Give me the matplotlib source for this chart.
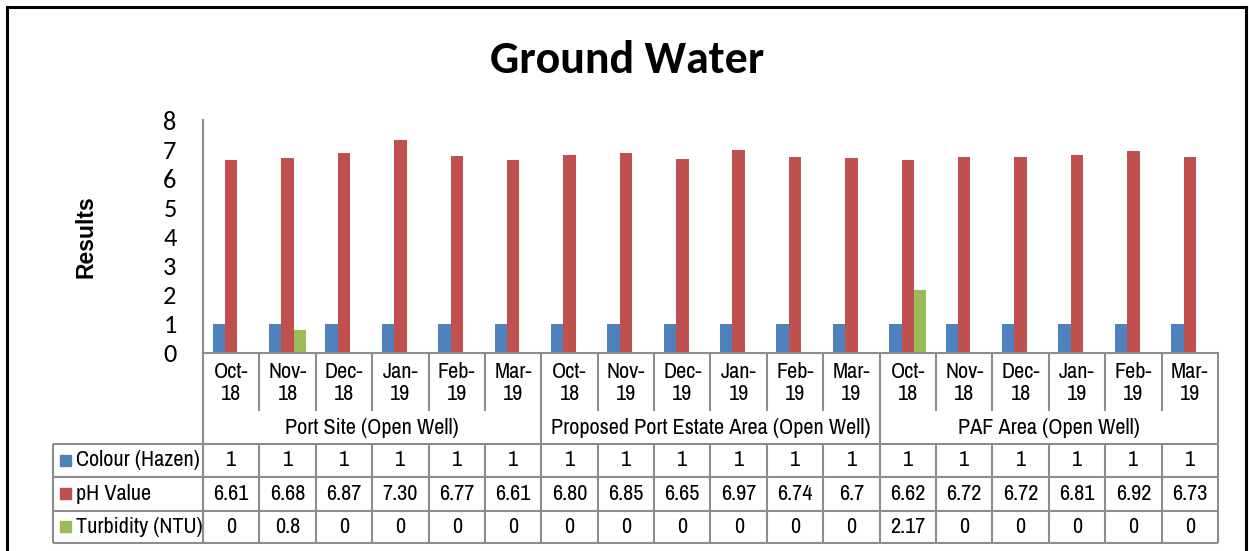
import numpy as np
import matplotlib.pyplot as plt

# monthly results, three sampling locations of six months each
months = ["Oct-\n18", "Nov-\n18", "Dec-\n18", "Jan-\n19", "Feb-\n19", "Mar-\n19",
          "Oct-\n18", "Nov-\n19", "Dec-\n19", "Jan-\n19", "Feb-\n19", "Mar-\n19",
          "Oct-\n18", "Nov-\n18", "Dec-\n18", "Jan-\n19", "Feb-\n19", "Mar-\n19"]
sites = ["Port Site (Open Well)", "Proposed Port Estate Area (Open Well)",
         "PAF Area (Open Well)"]
colour_txt = ["1"] * 18
ph_txt = ["6.61", "6.68", "6.87", "7.30", "6.77", "6.61",
          "6.80", "6.85", "6.65", "6.97", "6.74", "6.7",
          "6.62", "6.72", "6.72", "6.81", "6.92", "6.73"]
turb_txt = ["0", "0.8", "0", "0", "0", "0",
            "0", "0", "0", "0", "0", "0",
            "2.17", "0", "0", "0", "0", "0"]

series = ["Colour (Hazen)", "pH Value", "Turbidity (NTU)"]
colors = ["#4F81BD", "#C0504D", "#9BBB59"]
rows = [colour_txt, ph_txt, turb_txt]
values = [[float(v) for v in r] for r in rows]

W, H = 1249, 551
narrow = ["Archivo Narrow", "Liberation Sans", "DejaVu Sans"]
calibri = ["Carlito", "Lato", "DejaVu Sans"]
grid = "#8C8C8C"
fs = 16

fig = plt.figure(figsize=(W / 100, H / 100), dpi=100)

# plot area in pixels
x0, x1, ytop, ybot = 203, 1218, 120, 353
ax = fig.add_axes([x0 / W, 1 - ybot / H, (x1 - x0) / W, (ybot - ytop) / H])

n = len(months)
x = np.arange(n)
bw = 0.22
for k in range(3):
    ax.bar(x + (k - 1) * bw, values[k], width=bw, color=colors[k], zorder=2)

ax.set_xlim(-0.5, n - 0.5)
ax.set_ylim(0, 8)
ax.set_yticks(range(9))
ax.set_xticks([])
ax.tick_params(axis="y", length=0, pad=19, labelsize=19)
for t in ax.get_yticklabels():
    t.set_family(calibri)
for s in ["top", "right"]:
    ax.spines[s].set_visible(False)
for s in ["left", "bottom"]:
    ax.spines[s].set_color(grid)
    ax.spines[s].set_linewidth(1.5)
ax.set_ylabel("Results", family=["Liberation Sans", "DejaVu Sans"],
              fontweight="bold", fontsize=16.5, labelpad=0)
ax.yaxis.set_label_coords(-0.104, 0.5)

fig.text(627 / W, 1 - 60 / H, "Ground Water", family=calibri, fontweight="bold",
         fontsize=33, ha="center", va="center")

# overlay in pixel coordinates for the category axis and data table
ov = fig.add_axes([0, 0, 1, 1], zorder=3)
ov.set_xlim(0, W)
ov.set_ylim(H, 0)
ov.axis("off")
ov.patch.set_visible(False)

cw = (x1 - x0) / n
def cx(i):
    return x0 + (i + 0.5) * cw

lkw = dict(color=grid, lw=1.5, solid_capstyle="butt")
y_grp, y_tab = 411, 444
row_y = [444, 477, 510.5, 543]
xl = 53

# month separators and group separators
for i in range(n + 1):
    xb = x0 + i * cw
    if i % 6 == 0:
        ov.plot([xb, xb], [ybot, row_y[-1]], **lkw)
    else:
        ov.plot([xb, xb], [ybot, y_grp], **lkw)
        ov.plot([xb, xb], [y_tab, row_y[-1]], **lkw)
for i, m in enumerate(months):
    ov.text(cx(i), 383, m, ha="center", va="center", family=narrow,
            fontsize=fs, linespacing=1.12)
for g, name in enumerate(sites):
    ov.text(x0 + (g * 6 + 3) * cw, 428, name, ha="center", va="center",
            family=narrow, fontsize=fs)

# table grid
for yy in row_y:
    ov.plot([xl, x1], [yy, yy], **lkw)
for xx in [xl, x0]:
    ov.plot([xx, xx], [row_y[0], row_y[-1]], **lkw)

for r in range(3):
    yc = (row_y[r] + row_y[r + 1]) / 2
    ov.add_patch(plt.Rectangle((60, yc - 5.5), 11, 11, color=colors[r]))
    ov.text(76, yc, series[r], ha="left", va="center", family=narrow, fontsize=fs)
    for i in range(n):
        ov.text(cx(i), yc, rows[r][i], ha="center", va="center",
                family=narrow, fontsize=fs)

# chart border
bkw = dict(color="black", lw=2.2, solid_capstyle="projecting")
ov.plot([7, 7], [7, H + 5], **bkw)
ov.plot([7, 1246], [7, 7], **bkw)
ov.plot([1246, 1246], [7, H + 5], **bkw)

fig.savefig("out.png", dpi=100, facecolor="white")
